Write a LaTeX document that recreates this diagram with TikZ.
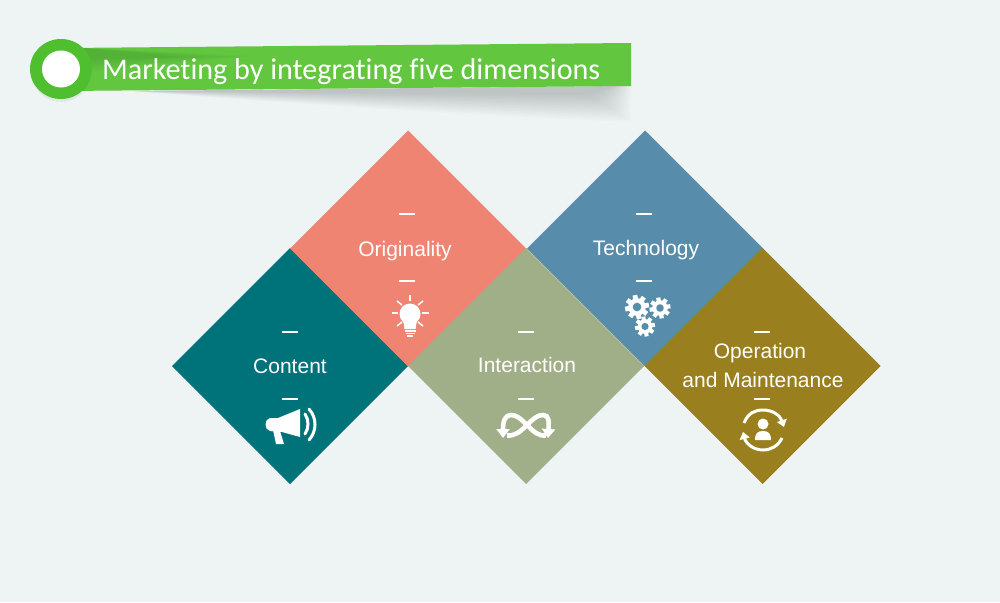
\documentclass[tikz,border=0pt]{standalone}
\usepackage{fontspec}
\setmainfont[Ligatures=NoCommon]{Carlito}
\newfontfamily\tilefont{Liberation Sans}
\usetikzlibrary{shapes.geometric, arrows.meta}
\definecolor{pagebg}{HTML}{EEF3F4}
\definecolor{ribbongreen}{HTML}{62C63F}
\definecolor{ringgreen}{HTML}{4FBF2F}
\definecolor{contentcol}{HTML}{00727A}
\definecolor{origcol}{HTML}{F08473}
\definecolor{techcol}{HTML}{578DAA}
\definecolor{intercol}{HTML}{A0AF88}
\definecolor{opercol}{HTML}{9A7F1E}
% gear: x, y, outer radius, hole colour
\newcommand{\drawgear}[4]{
    \fill[white] (#1,#2) circle ({#3*0.74});
    \foreach \a in {0,45,...,315}
        \fill[white, rotate around={\a+10:(#1,#2)}] (#1-#3*0.2,#2) rectangle (#1+#3*0.2,#2-#3);
    \fill[#4] (#1,#2) circle ({#3*0.36});
}
\begin{document}
\begin{tikzpicture}[
        x=1pt, y=-1pt,
        tile/.style={diamond, minimum width=236, minimum height=236, inner sep=0pt, outer sep=0pt},
        tiletext/.style={text=white, font=\tilefont\fontsize{21}{25}\selectfont, inner sep=0pt, anchor=base},
        dashmark/.style={white, line width=1.3pt},
        iconline/.style={white, line width=4.6pt},
        iconfill/.style={white, line width=0pt}
    ]
        \useasboundingbox (0,0) rectangle (1000,602);
        \fill[pagebg] (0,0) rectangle (1000,602);

        % Shadow under the ribbon
        \foreach \d in {0,2,...,30}
            \fill[black, opacity=0.012] (130,91) -- (631-\d*0.6,86) -- (631-\d*1.4,{122-\d*0.9}) .. controls (480,{116-\d*0.7}) and (320,{106-\d*0.45}) .. (130,91) -- cycle;

        % Ribbon and ring
        \fill[ribbongreen] (65,48) -- (631,43) -- (631,86) -- (65,91) -- cycle;
        \foreach \d in {0,2,...,12}
            \fill[black, opacity=0.012] (84,48) -- (255-\d*6,{56+\d*0.1}) -- (84,{72-\d}) -- cycle;
        \fill[black, opacity=0.05] (61,74) ellipse (29 and 28);
        \fill[ringgreen] (61,69) ellipse (31 and 30);
        \fill[white] (61,69) ellipse (19 and 18.5);
        \node[text=white, font=\fontsize{30.1}{36}\selectfont, inner sep=0pt, anchor=base west] (title) at (102,79) {Marketing by integrating five dimensions};

        % Tiles
        \node[tile, fill=contentcol] (content) at (290,366) {};
        \node[tile, fill=origcol] (orig) at (408,248.5) {};
        \node[tile, fill=techcol] (tech) at (645,248.5) {};
        \node[tile, fill=intercol] (inter) at (526,366) {};
        \node[tile, fill=opercol] (oper) at (762.5,366) {};

        % Labels
        \node[tiletext] (contentlabel) at (290,373) {Content};
        \node[tiletext] (origlabel) at (405,256) {Originality};
        \node[tiletext] (techlabel) at (646,255) {Technology};
        \node[tiletext] (interlabel) at (527,372) {Interaction};
        \node[tiletext] (operlabel1) at (760,358) {Operation};
        \node[tiletext] (operlabel2) at (763,387) {and Maintenance};

        % Short white marks above and below the labels
        \foreach \cx/\cy in {290/366, 407/248, 644/248, 526/366, 762/366} {
            \draw[dashmark] (\cx-8,\cy-34) -- (\cx+8,\cy-34);
            \draw[dashmark] (\cx-8,\cy+33) -- (\cx+8,\cy+33);
        }

        % Megaphone
        \fill[iconfill] (300,409) -- (300,437) -- (282,432) -- (270,431) .. controls (264,430) and (264,419) .. (270,418) -- (278,418) -- cycle;
        \fill[iconfill] (273,430) -- (276,444) -- (284,444) -- (280,431) -- cycle;
        \draw[white, line width=3pt, line cap=round] (305,414) .. controls (309,420) and (309,428) .. (305,434);
        \draw[white, line width=3pt, line cap=round] (309,409) .. controls (317,418) and (317,431) .. (309,440);

        % Bulb
        \fill[iconfill] (410,314) circle (10.5);
        \fill[iconfill] (403,320) -- (417,320) -- (415.5,329) -- (404.5,329) -- cycle;
        \foreach \by/\bw in {331/5.5, 333.5/4.5, 336/3}
            \draw[white, line width=1.2pt] (410-\bw,\by) -- (410+\bw,\by);
        \foreach \ax/\ay/\bx/\by in {410/295/410/301, 392/313/398/313, 422/313/429/313, 397/301/402/305, 423/301/418/305, 397/326/402/322, 423/326/418/322}
            \draw[white, line width=1.5pt] (\ax,\ay) -- (\bx,\by);

        % Infinity
        \draw[iconline, -{Triangle[width=13pt, length=9pt]}] (546,435.5) .. controls (538,436) and (534,432) .. (527,425) .. controls (520,418) and (516,415) .. (511,415) .. controls (505,415) and (503,421) .. (503,438);
        \draw[iconline, -{Triangle[width=13pt, length=9pt]}] (507,435.5) .. controls (515,436) and (520,432) .. (527,425) .. controls (534,418) and (538,415) .. (543,415) .. controls (549,415) and (549,421) .. (548,438);

        % Gears
        \drawgear{637}{307}{12}{techcol}
        \drawgear{660}{308}{10.5}{techcol}
        \drawgear{645}{326.5}{10}{techcol}

        % Person with two turning arrows
        \fill[iconfill] (763,424) circle (5.5);
        \fill[iconfill] (755,440) .. controls (755,433) and (758,431) .. (763,431) .. controls (768,431) and (771,433) .. (771,440) -- cycle;
        \draw[white, line width=3pt, -{Triangle[width=10pt, length=7pt]}] (744,423) .. controls (748,413) and (755,410) .. (763,410) .. controls (772,410) and (780,415) .. (784,427);
        \draw[white, line width=3pt, -{Triangle[width=10pt, length=7pt]}] (782,438) .. controls (778,446) and (771,450) .. (763,450) .. controls (754,450) and (746,444) .. (743,432);
    \end{tikzpicture}
\end{document}
